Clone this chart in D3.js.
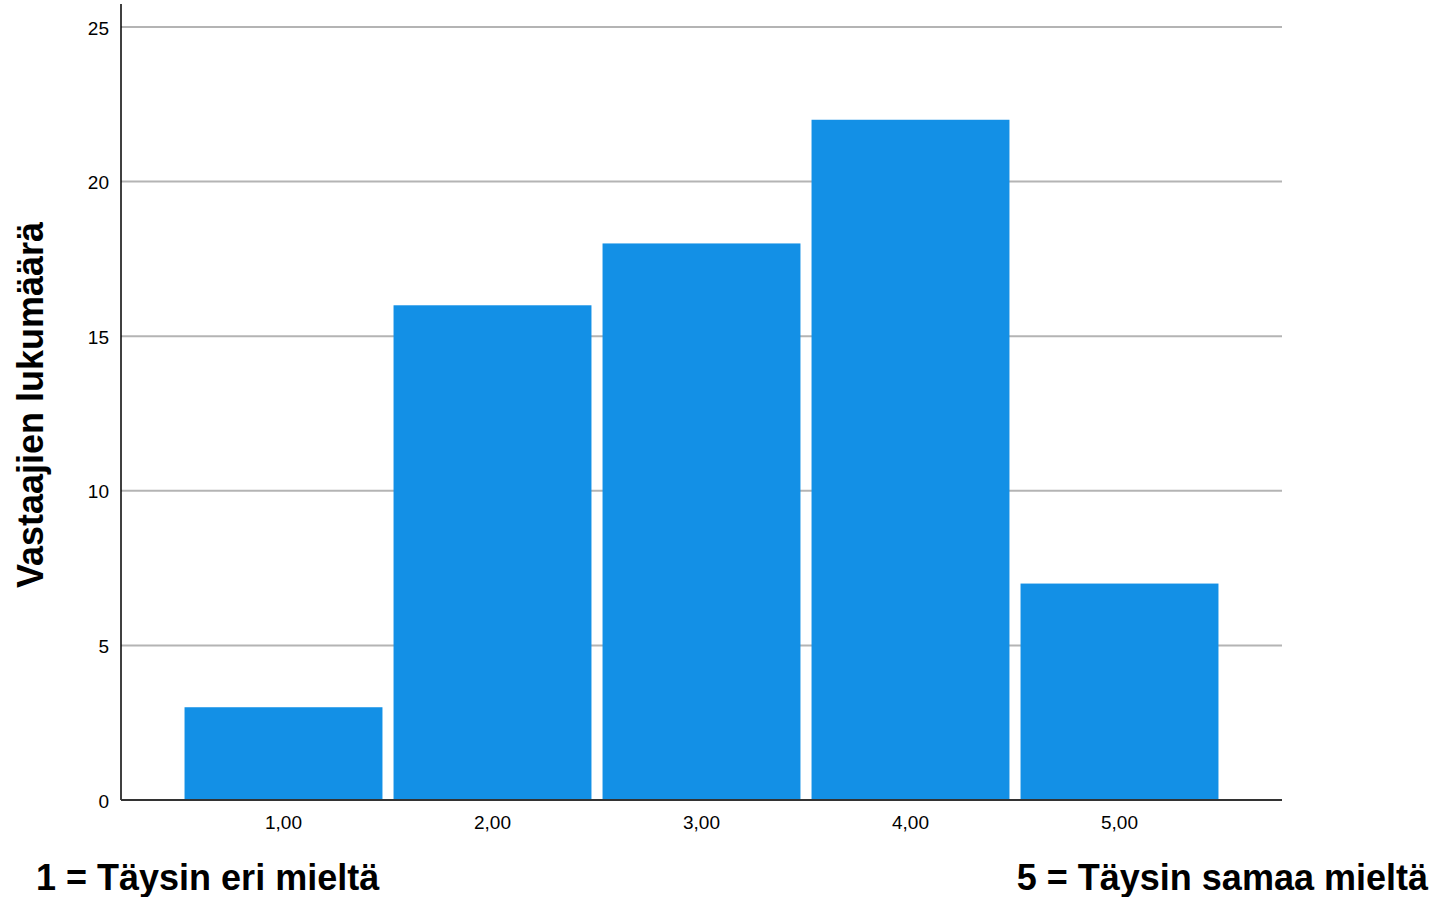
<!DOCTYPE html>
<html><head><meta charset="utf-8">
<script src="https://cdn.jsdelivr.net/npm/d3@7"></script>
<style>body{margin:0;background:#fff}svg{display:block;font-family:"Liberation Sans",Arial,sans-serif}</style>
</head><body>
<svg id="c" width="1444" height="897"></svg>
<script>
const categories = ["1,00","2,00","3,00","4,00","5,00"];
const counts = [3,16,18,22,7];
const yTicks = [0,5,10,15,20,25];
const yTitle = "Vastaajien lukumäärä";
const leftNote = "1 = Täysin eri mieltä";
const rightNote = "5 = Täysin samaa mieltä";

const svg = d3.select("#c");
const L=121, R=1282, T=27, B=800;
const x = d3.scaleBand().domain(categories).range([L,R]).paddingInner(0.053).paddingOuter(0.304);
const y = d3.scaleLinear().domain([0,25]).range([B,T]);

// gridlines
svg.append("g").selectAll("line").data(yTicks.filter(d=>d>0)).join("line")
  .attr("x1",L).attr("x2",R).attr("y1",d=>y(d)).attr("y2",d=>y(d))
  .attr("stroke","#b4b4b4").attr("stroke-width",2);

// bars
svg.append("g").selectAll("rect").data(counts).join("rect")
  .attr("x",(d,i)=>x(categories[i])).attr("width",x.bandwidth())
  .attr("y",d=>y(d)).attr("height",d=>B-y(d)).attr("fill","#1390E6");

// y axis
const ya = svg.append("g").attr("transform",`translate(${L},1)`)
  .call(d3.axisLeft(y).tickValues(yTicks).tickSize(0).tickPadding(12));
ya.select(".domain").remove();
ya.selectAll("text").attr("font-size",19).attr("fill","#000").attr("font-family","Liberation Sans, Arial, sans-serif");
svg.append("line").attr("x1",L).attr("x2",L).attr("y1",4).attr("y2",B).attr("stroke","#000").attr("stroke-width",1.5);

// x axis
const xa = svg.append("g").attr("transform",`translate(0,${B})`)
  .call(d3.axisBottom(x).tickSize(0).tickPadding(16));
xa.select(".domain").remove();
xa.selectAll("text").attr("font-size",19).attr("fill","#000").attr("font-family","Liberation Sans, Arial, sans-serif");
svg.append("line").attr("x1",L).attr("x2",R).attr("y1",B).attr("y2",B).attr("stroke","#333").attr("stroke-width",2);

// y title
svg.append("text").attr("transform","translate(43,405) rotate(-90)")
  .attr("text-anchor","middle").attr("font-size",36).attr("font-weight","bold").text(yTitle);

// notes
svg.append("text").attr("x",36).attr("y",890).attr("font-size",36).attr("font-weight","bold").text(leftNote);
svg.append("text").attr("x",1428).attr("y",890).attr("text-anchor","end").attr("font-size",36).attr("font-weight","bold").text(rightNote);
</script>
</body></html>
